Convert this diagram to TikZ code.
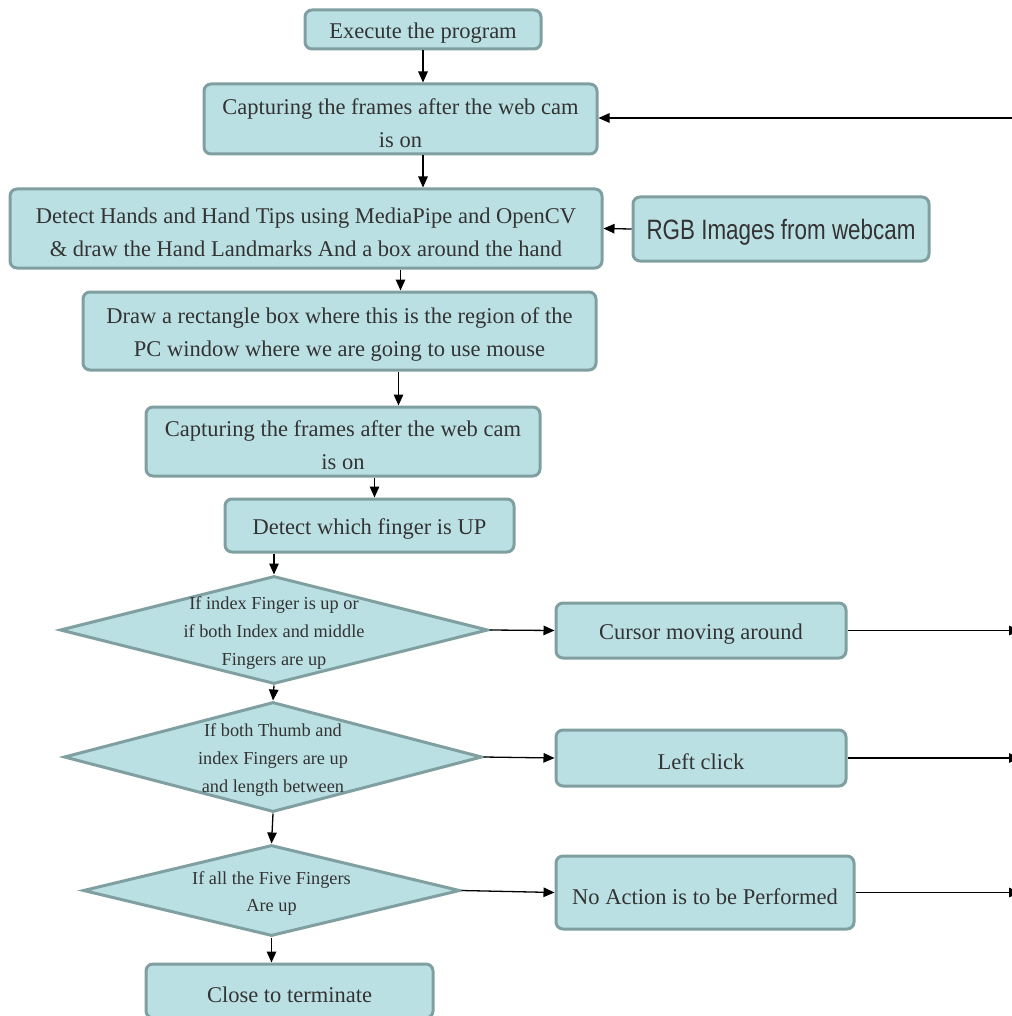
\documentclass[tikz,border=0pt]{standalone}
\usepackage{fontspec}
\setmainfont{Liberation Serif}
\newfontfamily\rgbfont[FakeStretch=0.8]{Liberation Sans}
\usetikzlibrary{shapes.geometric,arrows.meta}
\definecolor{boxfill}{HTML}{BBE0E3}
\definecolor{boxline}{HTML}{809FA1}
\definecolor{txt}{HTML}{333333}
\begin{document}
\begin{tikzpicture}[x=1pt,y=-1pt,
 box/.style={rectangle, rounded corners=7pt, draw=boxline, fill=boxfill, line width=3pt, inner sep=0pt},
 bt/.style={text=txt, font=\fontsize{22.5}{33}\selectfont, align=center, inner sep=0pt, yshift=-4pt},
 btext/.style={label={[bt]center:{#1}}},
 dia/.style={diamond, draw=boxline, fill=boxfill, line width=3pt, inner sep=0pt},
 dt/.style={text=txt, font=\fontsize{18.3}{27.7}\selectfont, align=center, inner sep=0pt, yshift=-3pt},
 dtext/.style={label={[dt]center:{#1}}},
 arr/.style={-{Triangle[length=11pt,width=9.5pt]}, line width=1.3pt, black}]
\useasboundingbox (0,0) rectangle (1011,1016);

\node[box, minimum width=236pt, minimum height=39pt, btext={Execute the program}] (exec) at (423,29.5) {};
\node[box, minimum width=393pt, minimum height=70pt, btext={Capturing the frames after the web cam\\is on}] (cap1) at (400.5,119) {};
\node[box, minimum width=592pt, minimum height=79pt, btext={Detect Hands and Hand Tips using MediaPipe and OpenCV\\\& draw the Hand Landmarks And a box around the hand}] (detect) at (306,228.5) {};
\node[box, minimum width=296pt, minimum height=64pt, label={[text=txt, font=\rgbfont\fontsize{28}{33}\selectfont, inner sep=0pt, yshift=-3pt]center:{RGB Images from webcam}}] (rgb) at (781,229) {};
\node[box, minimum width=513pt, minimum height=78pt, btext={Draw a rectangle box where this is the region of the\\PC window where we are going to use mouse}] (drawbox) at (339.5,331) {};
\node[box, minimum width=394pt, minimum height=69pt, btext={Capturing the frames after the web cam\\is on}] (cap2) at (343,441.5) {};
\node[box, minimum width=289pt, minimum height=53pt, btext={Detect which finger is UP}] (finger) at (369.5,525.5) {};

\node[dia, minimum width=428pt, minimum height=108pt, dtext={If index Finger is up or\\if both Index and middle\\Fingers are up}] (d1) at (274,630) {};
\node[dia, minimum width=418pt, minimum height=110pt, dtext={If both Thumb and\\index Fingers are up\\and length between}] (d2) at (273,757) {};
\node[dia, minimum width=377pt, minimum height=91pt, dtext={If all the Five Fingers\\Are up}] (d3) at (271.5,890.5) {};

\node[box, minimum width=287pt, minimum height=54pt, btext={Close to terminate}] (close) at (289.5,991) {};
\node[box, minimum width=290pt, minimum height=55pt, btext={Cursor moving around}] (cursor) at (701,630.5) {};
\node[box, minimum width=290pt, minimum height=56pt, btext={Left click}] (left) at (701,758) {};
\node[box, minimum width=298pt, minimum height=73pt, btext={No Action is to be Performed}] (noact) at (705,892.5) {};

\coordinate (o0) at (1012,118);
\coordinate (o1) at (1020,630.5);
\coordinate (o2) at (1020,758);
\coordinate (o3) at (1020,892.5);

\draw[arr] (exec.south) -- (cap1.north -| exec.south);
\draw[arr] (cap1.south -| exec.south) -- (detect.north -| exec.south);
\draw[arr] (rgb.west) -- (detect.east);
\draw[arr] (detect.south -| cap1.south) -- (drawbox.north -| cap1.south);
\draw[arr] ([xshift=-2pt]drawbox.south -| cap1.south) -- ([xshift=-2pt]cap2.north -| cap1.south);
\draw[arr] ([xshift=5pt]finger.north |- cap2.south) -- ([xshift=5pt]finger.north);
\draw[arr] (finger.south -| d1.north) -- (d1.north);
\draw[arr] (d1.south) -- (d2.north);
\draw[arr] (d2.south) -- (d3.north);
\draw[arr] (d3.south) -- (close.north -| d3.south);
\draw[arr] (d1.east) -- (cursor.west);
\draw[arr] (d2.east) -- (left.west);
\draw[arr] (d3.east) -- (noact.west);
\draw[arr] (cursor.east) -- (o1);
\draw[arr] (left.east) -- (o2);
\draw[arr] (noact.east) -- (o3);
\draw[arr] (o0) -- (cap1.east |- o0);
\end{tikzpicture}
\end{document}
